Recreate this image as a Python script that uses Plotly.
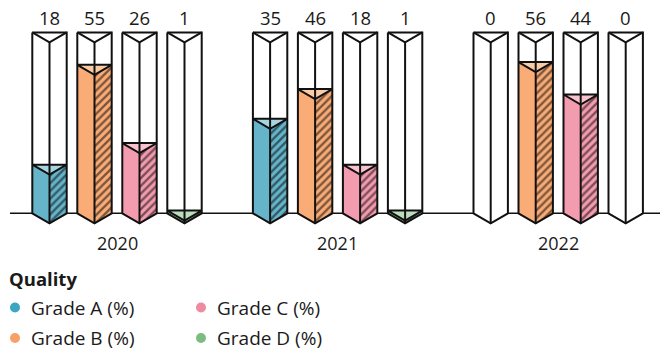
import plotly.graph_objects as go

# ---- data ----
years = ["2020", "2021", "2022"]
series = ["Grade A (%)", "Grade B (%)", "Grade C (%)", "Grade D (%)"]
grade_a = [18, 35, 0]
grade_b = [55, 46, 56]
grade_c = [26, 18, 44]
grade_d = [1, 1, 0]
values = [grade_a, grade_b, grade_c, grade_d]

legend_title = "Quality"
dot_colors = ["#3AA6C1", "#F7A068", "#EF8BA0", "#7DBC80"]
face_colors = ["#66B4CA", "#F9AC76", "#F49CAF", "#8CC48E"]
cap_colors = ["#A6D4E1", "#FBCBA6", "#F8C3CF", "#BCDCBD"]

# ---- geometry (pixel-based layout) ----
W, H = 660, 350
BASE_PX = 213.3          # pixel row of the zero line
PX_PER_UNIT = 2.7        # vertical scale
CONTAINER_MAX = 67       # value at top of empty prism
GROUP_PX = 220.6         # pixels between group centres
FIRST_GROUP_PX = 117.0
PITCH = 45.0 / GROUP_PX
HALF_W = 17.2 / GROUP_PX
D = 10.0 / PX_PER_UNIT   # depth of the prism point

x_range = [-FIRST_GROUP_PX / GROUP_PX, (W - FIRST_GROUP_PX) / GROUP_PX]
y_range = [(BASE_PX - H) / PX_PER_UNIT, BASE_PX / PX_PER_UNIT]

FONT = "Open Sans"
TXT = "#1a1a1a"

fig = go.Figure()

for gi in range(len(years)):
    for si in range(len(series)):
        v = values[si][gi]
        xc = gi + (si - 1.5) * PITCH
        xl, xr = xc - HALF_W, xc + HALF_W
        top = CONTAINER_MAX
        # white container body
        fig.add_trace(go.Scatter(
            x=[xl, xl, xc, xr, xr, xl], y=[top, 0, -D, 0, top, top],
            fill="toself", fillcolor="white", mode="none",
            hoverinfo="skip", showlegend=False))
        if v > 0:
            # left face (solid)
            fig.add_trace(go.Scatter(
                x=[xl, xl, xc, xc, xl], y=[0, v, v - D, -D, 0],
                fill="toself", fillcolor=face_colors[si], mode="none",
                hoverinfo="skip", showlegend=False))
            # right face (hatched)
            fig.add_trace(go.Scatter(
                x=[xc, xc, xr, xr, xc], y=[-D, v - D, v, 0, -D],
                fill="toself", mode="none",
                fillpattern=dict(shape="/", bgcolor=face_colors[si],
                                 fgcolor="#000000", size=5.5, solidity=0.42),
                hoverinfo="skip", showlegend=False))
            # top cap
            fig.add_trace(go.Scatter(
                x=[xl, xc, xr, xl], y=[v, v - D, v, v],
                fill="toself", fillcolor=cap_colors[si],
                mode="lines", line=dict(color="#111111", width=2),
                hoverinfo="skip", showlegend=False))
        # outlines
        fig.add_trace(go.Scatter(
            x=[xl, xl, xc, xr, xr, xl, None, xl, xc, xr, None, xc, xc],
            y=[top, 0, -D, 0, top, top, None, top, top - D, top, None, top - D, -D],
            mode="lines", line=dict(color="#111111", width=2),
            hoverinfo="skip", showlegend=False))
        # value label
        fig.add_annotation(x=xc, y=1 - 18.0 / H, xref="x", yref="paper",
                           text=str(v), showarrow=False, yanchor="middle",
                           font=dict(size=18.5, color=TXT, family=FONT))
    fig.add_annotation(x=gi, y=1 - 243.0 / H, xref="x", yref="paper",
                       text=years[gi], showarrow=False, yanchor="middle",
                       font=dict(size=18, color=TXT, family=FONT))

# baseline
fig.add_shape(type="line", xref="paper", yref="y", x0=10 / W, x1=1, y0=0, y1=0,
              line=dict(color="#111111", width=1.6), layer="below")

# legend (drawn manually: title + two columns)
fig.add_annotation(x=7 / W, y=1 - 278.0 / H, xref="paper", yref="paper",
                   text="<b>" + legend_title + "</b>", showarrow=False,
                   xanchor="left", yanchor="middle",
                   font=dict(size=18.5, color=TXT, family=FONT))
leg_pos = [(15, 307.5), (15, 338.0), (201, 307.5), (201, 338.0)]
for si, name in enumerate(series):
    cx, cy = leg_pos[si]
    r = 5
    fig.add_shape(type="circle", xref="paper", yref="paper",
                  x0=(cx - r) / W, x1=(cx + r) / W,
                  y0=1 - (cy + r) / H, y1=1 - (cy - r) / H,
                  fillcolor=dot_colors[si], line=dict(width=0))
    fig.add_annotation(x=(cx + 14) / W, y=1 - cy / H, xref="paper", yref="paper",
                       text=name, showarrow=False, xanchor="left", yanchor="middle",
                       font=dict(size=19, color=TXT, family=FONT))

fig.update_layout(
    width=W, height=H, margin=dict(l=0, r=0, t=0, b=0),
    paper_bgcolor="white", plot_bgcolor="white",
    xaxis=dict(range=x_range, visible=False, fixedrange=True),
    yaxis=dict(range=y_range, visible=False, fixedrange=True),
    showlegend=False, font=dict(family=FONT),
)

fig.write_html("out.html")
